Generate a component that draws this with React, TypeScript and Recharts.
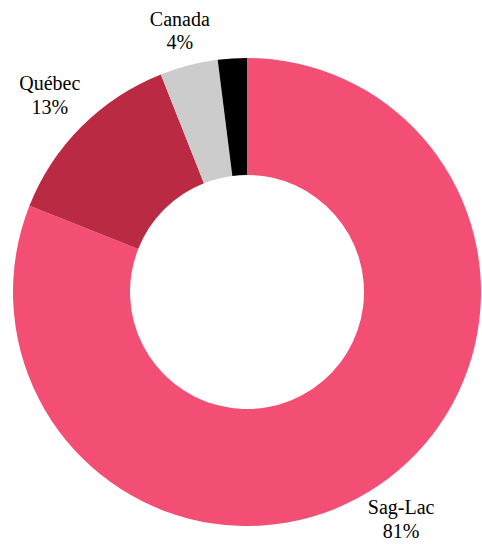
import React from "react";
import { PieChart, Pie, Cell } from "recharts";

const regions = ["Sag-Lac", "Québec", "Canada", "Autre"];
const shares = [81, 13, 4, 2];
const shareLabels = ["81%", "13%", "4%", ""];
const colors = ["#F34E74", "#BB2A43", "#CCCCCC", "#000000"];

const data = regions.map((name, i) => ({ name, value: shares[i], label: shareLabels[i] }));

const RAD = Math.PI / 180;
const SERIF = "'Liberation Serif', 'Times New Roman', serif";
const FONT_SIZE = 20;
const LINE_GAP = 23.5;

const renderLabel = (props: any) => {
  const { cx, cy, midAngle, outerRadius, index } = props;
  const item = data[index];
  if (!item.label) return null;
  const a = ((midAngle % 360) + 360) % 360;
  const c = Math.cos(a * RAD);
  const s = Math.sin(a * RAD);
  const hw = 31;
  const hh = 22.5;
  const extent = Math.min(Math.abs(c) > 1e-6 ? hw / Math.abs(c) : 1e9, Math.abs(s) > 1e-6 ? hh / Math.abs(s) : 1e9);
  const r = outerRadius + 13 + extent;
  const x = cx + r * c;
  const y = cy - r * s;
  return (
    <text
      x={x}
      y={y}
      textAnchor="middle"
      style={{ fontFamily: SERIF, fontSize: FONT_SIZE, fill: "#000" }}
    >
      <tspan x={x} y={y - LINE_GAP / 2} dominantBaseline="central">{item.name}</tspan>
      <tspan x={x} y={y + LINE_GAP / 2} dominantBaseline="central">{item.label}</tspan>
    </text>
  );
};

export default function App() {
  return (
    <div style={{ position: "absolute", left: 0, top: 0, width: 482, height: 544, background: "#fff" }}>
      <PieChart width={482} height={544} margin={{ top: 0, right: 0, bottom: 0, left: 0 }}>
        <Pie
          data={data}
          dataKey="value"
          nameKey="name"
          cx={247}
          cy={292}
          innerRadius={117}
          outerRadius={234}
          startAngle={90}
          endAngle={-270}
          stroke="none"
          label={renderLabel}
          labelLine={false}
          isAnimationActive={false}
        >
          {data.map((d, i) => (
            <Cell key={d.name} fill={colors[i]} />
          ))}
        </Pie>
      </PieChart>
    </div>
  );
}
